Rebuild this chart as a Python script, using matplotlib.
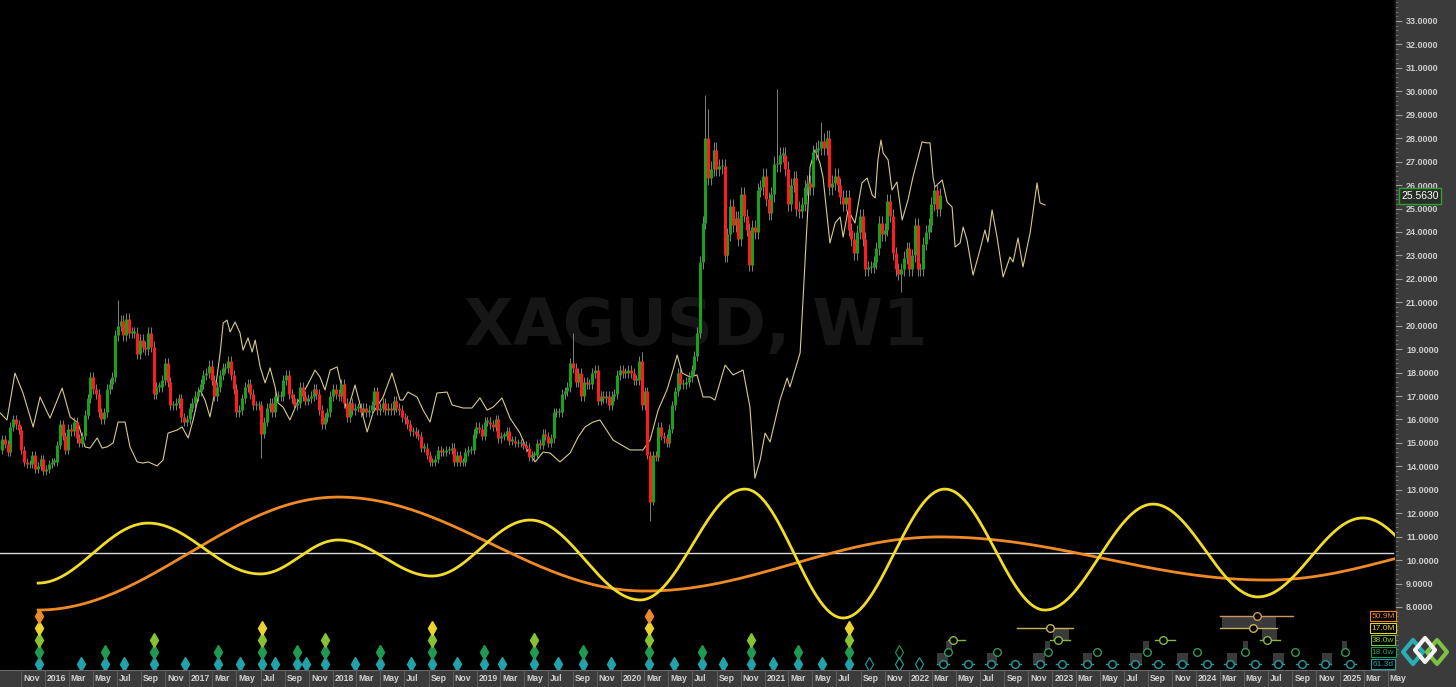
import numpy as np
import matplotlib
matplotlib.use("Agg")
import matplotlib.pyplot as plt
import matplotlib.dates as mdates
from matplotlib.patches import Rectangle, Polygon
from matplotlib.lines import Line2D

W, H = 1456, 687

# ---------------- data ----------------
# weekly candles (close of each week), first week starts 2015-09-14
candle_start = np.datetime64('2015-09-14')
first_open = 14.7
closes = [
    # 2015
    15.15, 14.95, 14.6, 15.7, 16.0, 15.8, 15.55, 14.7, 14.2, 14.1, 14.1, 14.5, 13.9, 14.0, 14.3, 13.8,
    # 2016
    13.9, 14.1, 14.2, 14.2, 14.9, 15.8, 15.3, 14.7, 15.6, 15.5, 15.9, 15.2, 15.0, 15.3, 16.2, 16.9, 17.8,
    17.3, 17.1, 16.3, 16.0, 16.3, 17.3, 17.5, 17.8, 19.6, 20.0, 20.2, 19.6, 20.3, 19.7, 19.7, 19.7, 18.8,
    19.4, 19.1, 19.0, 19.7, 19.1, 17.1, 17.4, 17.4, 17.7, 18.4, 17.6, 16.6, 16.6, 16.7, 16.9, 16.1, 15.9, 16.0,
    # 2017
    16.5, 16.7, 17.0, 17.2, 17.5, 17.9, 18.0, 18.3, 17.7, 17.0, 17.4, 17.9, 18.2, 18.2, 18.5, 17.9, 17.3,
    16.3, 16.4, 16.9, 17.4, 17.5, 17.1, 16.6, 16.6, 16.6, 15.4, 15.9, 16.5, 16.7, 16.3, 17.0, 17.0, 17.0,
    17.7, 17.9, 17.1, 16.9, 16.6, 16.7, 17.4, 17.0, 16.8, 16.9, 17.0, 17.3, 17.1, 16.4, 15.8, 16.1, 16.3, 17.0,
    # 2018
    17.3, 17.1, 17.0, 17.5, 16.7, 16.1, 16.7, 16.4, 16.5, 16.5, 16.3, 16.5, 16.3, 16.4, 16.6, 17.2, 16.4,
    16.5, 16.7, 16.4, 16.5, 16.4, 16.8, 16.5, 16.4, 16.1, 16.0, 15.8, 15.5, 15.5, 15.4, 15.3, 14.8, 14.8, 14.5,
    14.2, 14.2, 14.3, 14.7, 14.6, 14.6, 14.7, 14.7, 14.8, 14.2, 14.5, 14.2, 14.2, 14.6, 14.7, 14.7, 15.4,
    # 2019
    15.7, 15.6, 15.3, 15.9, 15.9, 15.8, 15.7, 16.0, 15.2, 15.3, 15.3, 15.5, 15.1, 15.1, 15.0, 15.0, 15.0,
    14.9, 14.8, 14.4, 14.5, 14.5, 15.0, 14.9, 15.4, 15.3, 15.0, 15.2, 16.3, 16.3, 16.3, 17.1, 17.2, 17.4, 18.4,
    18.2, 17.6, 18.0, 17.0, 17.6, 17.5, 17.5, 18.0, 18.1, 16.8, 17.0, 16.9, 17.0, 16.6, 17.0, 17.1, 17.9,
    # 2020
    18.1, 18.0, 18.0, 18.1, 18.0, 17.7, 17.7, 18.5, 16.6, 17.2, 14.5, 12.5, 14.5, 14.4, 15.7, 15.3, 15.2,
    15.0, 15.6, 16.6, 17.2, 18.0, 17.5, 17.5, 17.6, 17.8, 18.1, 18.7, 19.7, 22.7, 24.4, 28.0, 26.3, 26.7, 27.5,
    26.7, 26.8, 26.8, 23.0, 23.9, 25.1, 24.3, 24.6, 23.7, 25.6, 24.7, 24.1, 22.6, 24.2, 24.0, 25.8, 25.9,
    # 2021
    26.4, 25.4, 24.8, 25.6, 26.9, 26.9, 27.3, 27.3, 26.7, 25.2, 26.0, 26.3, 25.0, 24.9, 25.2, 25.9, 26.1, 25.9,
    27.4, 27.5, 27.6, 27.9, 27.6, 28.0, 25.9, 26.1, 26.4, 26.0, 25.5, 25.2, 25.5, 24.1, 23.7, 23.1, 24.0,
    24.7, 23.7, 22.4, 22.5, 22.5, 22.7, 23.3, 24.4, 23.9, 24.1, 25.3, 24.7, 23.1, 22.4, 22.2, 22.4, 22.9, 23.3,
    # 2022
    22.4, 23.0, 24.3, 22.4, 22.4, 23.5, 24.0, 24.3, 25.2, 25.8, 25.0, 25.563,
]
high_spikes = {42: 21.1, 207: 19.7, 232: 18.9, 255: 29.85, 256: 29.25, 281: 30.1, 297: 28.7}
low_spikes = {94: 14.35, 235: 11.65, 326: 21.45}
last_price = 25.563

# thin overlay line: weeks after 2015-09-09 and values
overlay_start = np.datetime64('2015-09-09')
overlay_weeks = [
    0, 2.5, 5.4, 8.3, 12.0, 14.5, 18.1, 22.5, 25.4, 28.3, 30.8, 32.6, 35.2, 37.0, 38.8, 41.0, 42.8, 45.3,
    47.1, 49.7, 51.8, 53.7, 56.9, 59.1, 60.9, 64.2, 66.0, 68.2, 70.0, 72.5, 74.3, 76.1, 78.0, 79.8, 80.9,
    82.3, 83.4, 85.2, 87.0, 88.1, 89.9, 91.4, 92.5, 94.3, 96.1, 97.9, 99.7, 100.8, 102.6, 105.1, 107.7,
    109.9, 112.4, 114.2, 116.0, 117.8, 119.7, 122.2, 124.4, 125.8, 128.7, 131.3, 133.1, 135.2, 138.9,
    142.1, 145.0, 146.1, 147.9, 151.2, 153.4, 155.9, 158.4, 162.1, 163.9, 167.9, 171.1, 174.0, 176.6,
    178.8, 182.0, 184.9, 188.5, 191.1, 194.0, 196.9, 199.4, 203.0, 206.7, 209.6, 212.1, 215.0, 217.5,
    222.3, 228.4, 233.1, 235.7, 238.6, 241.8, 244.0, 245.5, 247.3, 250.2, 252.7, 254.9, 257.4, 259.2,
    262.9, 265.8, 269.4, 271.9, 273.7, 275.6, 277.4, 279.2, 282.8, 285.4, 286.4, 290.1, 291.2, 293.7,
    295.5, 297.3, 298.4, 300.9, 302.8, 304.6, 305.7, 307.5, 310.0, 312.5, 314.4, 316.2, 317.3, 318.3,
    319.4, 320.2, 322.0, 323.4, 325.2, 327.1, 329.2, 331.0, 332.9, 334.3, 336.1, 337.2, 338.3, 339.0,
    341.6, 343.4, 345.2, 346.3, 348.1, 349.2, 350.6, 352.8, 355.3, 357.1, 358.2, 359.7, 361.5, 363.7,
    366.2, 367.3, 369.1, 370.9, 373.5, 374.5, 376.0, 377.1, 378.9,
]
overlay_values = [
    16.28, 15.98, 17.98, 17.13, 15.68, 16.96, 16.06, 17.34, 16.11, 15.85, 14.83, 14.78, 15.21, 14.78, 14.83,
    15.00, 15.89, 15.89, 14.83, 14.19, 14.14, 14.19, 14.02, 14.27, 15.42, 15.55, 15.68, 15.21, 15.98, 17.26,
    16.83, 16.11, 17.26, 18.84, 20.12, 20.24, 19.73, 20.16, 19.69, 18.96, 19.48, 18.88, 19.39, 18.24, 17.56,
    18.20, 17.39, 16.70, 16.53, 15.98, 16.70, 17.13, 17.68, 18.11, 17.81, 17.26, 18.11, 18.24, 17.13, 16.28,
    17.47, 16.28, 15.47, 16.28, 16.96, 17.98, 16.83, 16.83, 17.17, 16.96, 16.40, 15.89, 17.13, 17.17, 16.62,
    16.49, 16.49, 16.92, 16.40, 16.53, 16.92, 16.06, 15.42, 14.70, 14.19, 14.61, 14.57, 14.19, 14.57, 15.25,
    15.68, 15.89, 15.98, 15.12, 14.70, 14.70, 15.12, 16.40, 17.26, 18.11, 18.75, 17.98, 17.81, 17.90, 16.96,
    16.96, 16.83, 18.32, 17.90, 18.11, 16.53, 13.50, 14.27, 15.42, 15.04, 16.83, 17.77, 17.39, 18.84, 21.23,
    26.77, 27.50, 26.94, 26.34, 23.53, 24.38, 24.64, 23.78, 24.94, 24.38, 26.09, 26.30, 25.58, 25.45, 27.07,
    27.92, 27.37, 27.07, 25.79, 26.13, 24.51, 25.36, 26.34, 27.20, 27.84, 27.80, 27.80, 26.34, 25.92, 26.22,
    25.28, 25.06, 23.36, 23.53, 24.21, 23.66, 22.16, 23.23, 24.08, 23.57, 24.94, 23.78, 22.08, 22.93, 22.72,
    23.74, 22.51, 23.96, 24.81, 26.09, 25.24, 25.15,
]

# cycle turning points (weeks after 2015-09-09)
yellow_weeks = [13.8, 53.7, 94.3, 122.6, 156.6, 192.2, 232.1, 270.1, 305.7, 342.6, 378.9, 418.1, 456.1, 494.2, 531.2]
yellow_values = [9.02, 11.58, 9.41, 10.86, 9.32, 11.71, 8.30, 13.03, 7.53, 13.03, 7.87, 12.39, 8.43, 11.80, 8.50]
orange_weeks = [13.8, 122.6, 233.9, 340.8, 459.4, 552.9]
orange_values = [7.87, 12.69, 8.68, 10.99, 9.15, 11.0]
baseline = 10.3

# cycle troughs by row (bottom row first)
trough_rows = [
    [14.1, 29.4, 38.1, 45.0, 55.8, 67.1, 79.0, 87.0, 95.0, 99.7, 107.7, 111.0, 117.8, 128.7, 137.8, 149.0,
     156.6, 165.7, 175.5, 182.0, 193.6, 202.3, 211.4, 221.5, 235.3, 244.4, 254.5, 262.1, 272.3, 280.3,
     289.3, 298.0, 307.8],
    [14.1, 38.1, 55.8, 79.0, 95.0, 107.7, 117.8, 137.8, 156.6, 175.5, 193.6, 211.4, 235.3, 254.5, 272.3,
     289.3, 307.8],
    [14.1, 55.8, 95.0, 117.8, 156.6, 193.6, 235.3, 272.3, 307.8],
    [14.1, 95.0, 156.6, 235.3, 307.8],
    [14.1, 235.3],
]
hollow_rows = [[315.1, 326.0, 333.2], [326.0], [], [], []]

# projected troughs
proj_circles = [
    [341.9, 351.0, 359.3, 368.0, 377.1, 385.1, 394.1, 403.2, 411.5, 419.9, 428.6, 437.6, 446.0, 455.0,
     463.4, 472.1, 480.4, 489.5],
    [343.7, 361.5, 380.0, 397.8, 415.9, 434.0, 451.4, 469.5, 487.7],
    [345.5, 383.6, 421.7, 459.4],
    [380.7, 454.3],
    [455.8],
]
proj_spans = [
    [],
    [],
    [(343.7, 349.9), (380.7, 388.0), (418.8, 426.0), (456.9, 464.1)],
    [(368.7, 389.1), (442.3, 463.0)],
    [(442.3, 468.8)],
]
proj_boxes = [
    (339.7, 343.7, 0), (357.9, 361.5, 0), (374.5, 378.9, 0), (392.7, 396.0, 0), (409.7, 414.1, 0),
    (426.8, 430.8, 0), (444.9, 448.5, 0), (461.6, 465.5, 0), (479.3, 482.9, 0),
    (343.0, 345.2, 1), (378.9, 380.7, 1), (414.4, 416.6, 1), (450.7, 452.5, 1), (486.6, 488.4, 1),
    (381.8, 387.6, 2), (457.6, 463.0, 2),
    (443.1, 462.7, 3),
]
cycle_labels = ['61.3d', '18.0w', '38.0w', '17.0M', '50.9M']
month_names = ['Jan', 'Feb', 'Mar', 'Apr', 'May', 'Jun', 'Jul', 'Aug', 'Sep', 'Oct', 'Nov', 'Dec']

# ---------------- styles ----------------
row_colors = ['#22a2aa', '#1f9a52', '#86c232', '#ecd42e', '#ec8a2a']
proj_colors = ['#2a9a9c', '#2f9a5c', '#8ab44a', '#c8b25a', '#cf9560']
row_px = [664, 652, 640, 628, 616]
PX_PER_DAY = 143.9 / 365.25
PX_PER_UNIT = 23.44
LABEL_FONT = 'Liberation Sans'


def px_to_val(y):
    return 33 - (y - 21) / PX_PER_UNIT


def wk(base, weeks):
    return mdates.date2num(base) + 7 * np.asarray(weeks, dtype=float)


def half_cos(xk, yk, n=60):
    xs, ys = [], []
    for i in range(len(xk) - 1):
        s = np.linspace(0, 1, n)
        xs.append(xk[i] + (xk[i + 1] - xk[i]) * s)
        ys.append(yk[i] + (yk[i + 1] - yk[i]) * (1 - np.cos(np.pi * s)) / 2)
    return np.concatenate(xs), np.concatenate(ys)


fig = plt.figure(figsize=(W / 100, H / 100), dpi=100, facecolor='#3b3b3b')
ax = fig.add_axes([0, 17 / H, 1395 / W, 670 / H])
ax.set_facecolor('black')

jan16 = mdates.date2num(np.datetime64('2016-01-01'))
ax.set_xlim(jan16 - 45 / PX_PER_DAY, jan16 + 1350 / PX_PER_DAY)
ax.set_ylim(33 - 649 / PX_PER_UNIT, 33 + 21 / PX_PER_UNIT)

# watermark
ax.text(0.499, 0.512, 'XAGUSD, W1', transform=ax.transAxes, ha='center', va='center',
        fontsize=46, fontweight='bold', color='#161616', zorder=0)

# white baseline
ax.axhline(baseline, color='#d8d8d8', lw=1.0, zorder=2)

# overlay line
ax.plot(wk(overlay_start, overlay_weeks), overlay_values, color='#d6cb8a', lw=0.8, zorder=3)

# candles
c = np.array(closes)
o = np.concatenate([[first_open], c[:-1]])
hi = np.maximum(o, c) * 1.012
lo = np.minimum(o, c) * 0.988
for k, v in high_spikes.items():
    hi[k] = v
for k, v in low_spikes.items():
    lo[k] = v
cx = wk(candle_start, np.arange(len(c)))
ax.vlines(cx, lo, hi, color='#959595', lw=0.6, zorder=4)
up = c >= o
top = np.maximum(o, c)
bot = np.minimum(o, c)
top = np.where(top - bot < 0.06, bot + 0.06, top)
ax.vlines(cx[up], bot[up], top[up], color='#1ca01c', lw=2.2, zorder=5)
ax.vlines(cx[~up], bot[~up], top[~up], color='#ff1c1c', lw=2.2, zorder=5)

# cycles
base = overlay_start
ox, oy = half_cos(wk(base, orange_weeks), orange_values)
ax.plot(ox, oy, color='#f08a24', lw=2.0, zorder=6)
yx, yy = half_cos(wk(base, yellow_weeks), yellow_values)
ax.plot(yx, yy, color='#f2dc2a', lw=2.0, zorder=7)

# trough diamonds
for r, weeks in enumerate(trough_rows):
    ax.plot(wk(base, weeks), [px_to_val(row_px[r])] * len(weeks), ls='none', marker='d',
            ms=7, color=row_colors[r], mec=row_colors[r], zorder=8)
for r, weeks in enumerate(hollow_rows):
    if weeks:
        ax.plot(wk(base, weeks), [px_to_val(row_px[r])] * len(weeks), ls='none', marker='d',
                ms=7, mfc='none', mec=row_colors[r], mew=0.8, zorder=8)

# projection boxes
for s, e, r in proj_boxes:
    y0 = px_to_val(row_px[r] + 1)
    y1 = px_to_val(row_px[r + 1] + 1)
    x0 = wk(base, s)
    x1 = wk(base, e)
    ax.add_patch(Rectangle((x0, y0), x1 - x0, y1 - y0, facecolor='#3a3a3a', edgecolor='none', zorder=7))

# projection spans and circles
for r in range(5):
    yv = px_to_val(row_px[r])
    for s, e in proj_spans[r]:
        ax.plot(wk(base, [s, e]), [yv, yv], color=proj_colors[r], lw=1.0, zorder=8)
    if r == 0:
        for w in proj_circles[r]:
            ax.plot(wk(base, [w - 2.3, w + 2.3]), [yv, yv], color=proj_colors[r], lw=1.0, zorder=8)
    ax.plot(wk(base, proj_circles[r]), [yv] * len(proj_circles[r]), ls='none', marker='o', ms=5.5,
            mfc='black', mec=proj_colors[r], mew=1.0, zorder=9)

# right price axis
ax.yaxis.tick_right()
ax.set_yticks(np.arange(8, 34))
ax.set_yticklabels([f'{v:.4f}' for v in np.arange(8, 34)])
ax.set_yticks(np.arange(6, 34, 0.2), minor=True)
ax.tick_params(axis='y', which='major', colors='#9a9a9a', labelcolor='#cdcdcd', length=5, width=0.8,
               labelsize=6.5, pad=3)
ax.tick_params(axis='y', which='minor', colors='#7a7a7a', length=2.5, width=0.6)
for lbl in ax.get_yticklabels():
    lbl.set_fontweight('bold')
    lbl.set_fontfamily(LABEL_FONT)
ax.set_xticks([])
for sp in ['top', 'left', 'bottom']:
    ax.spines[sp].set_visible(False)
ax.spines['right'].set_color('#111111')
ax.spines['right'].set_linewidth(1.2)

# last price label
fig.text(1420 / W, 1 - 196 / H, f'{last_price:.4f}', ha='center', va='center', fontsize=7.5,
         family=LABEL_FONT, color='white',
         bbox=dict(boxstyle='square,pad=0.25', facecolor='#262e26', edgecolor='#2ea12e', lw=1))

# cycle legend boxes
for r, lab in enumerate(cycle_labels):
    fig.text(1383 / W, 1 - row_px[r] / H, lab, ha='center', va='center', fontsize=6,
             family=LABEL_FONT, color=row_colors[r],
             bbox=dict(boxstyle='square,pad=0.15', facecolor='black', edgecolor=row_colors[r], lw=0.8))

# time axis labels in the bottom bar
fig.add_artist(Line2D([0, 1395 / W], [17 / H, 17 / H], color='#6a6a6a', lw=0.8))
for yr in range(2015, 2026):
    for m in (1, 3, 5, 7, 9, 11):
        d = mdates.date2num(np.datetime64(f'{yr}-{m:02d}-01'))
        px = (d - jan16) * PX_PER_DAY + 45
        if px < 5 or px > 1395:
            continue
        lab = str(yr) if m == 1 else month_names[m - 1]
        fig.add_artist(Line2D([px / W, px / W], [0, 17 / H], color='#5c5c5c', lw=0.8))
        fig.text((px + 2) / W, 8.5 / H, lab, ha='left', va='center', fontsize=6.2,
                 family=LABEL_FONT, fontweight='bold', color='#d2d2d2')

# logo: three linked diamonds
logo = [((1413, 652), '#2aaeb6'), ((1437, 652), '#7cc242'), ((1425, 650), '#f2f2f2')]
for (cxp, cyp), col in logo:
    pts = [(cxp - 10, cyp), (cxp, cyp - 12), (cxp + 10, cyp), (cxp, cyp + 12)]
    fig.add_artist(Polygon([(x / W, 1 - y / H) for x, y in pts], closed=True, fill=False,
                           edgecolor=col, lw=3.0, joinstyle='round'))

fig.savefig('out.png', dpi=100, facecolor=fig.get_facecolor())
